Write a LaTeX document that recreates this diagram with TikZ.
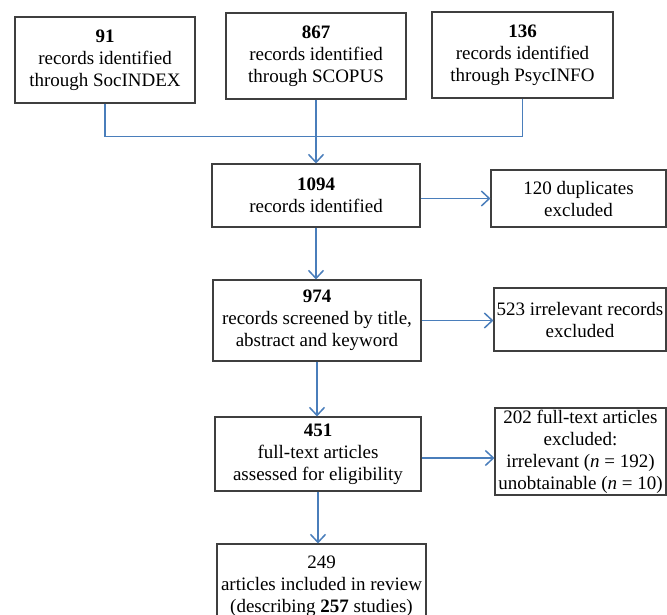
\documentclass[tikz,border=0pt]{standalone}
\usepackage{fontspec}
\setmainfont{Liberation Serif}
\usetikzlibrary{arrows.meta}
\definecolor{linkblue}{HTML}{4A7EBB}
\definecolor{bordgray}{HTML}{3F3F3F}
\begin{document}
\begin{tikzpicture}[x=1pt,y=-1pt,
  box/.style={draw=bordgray,line width=1.1pt,inner sep=0pt,align=center,font=\fontsize{19}{22}\selectfont},
  link/.style={draw=linkblue,line width=1.5pt},
  arr/.style={link,-{Straight Barb[length=8pt,width=15pt,line width=1.5pt]}}]
\useasboundingbox (0,0) rectangle (667,614);
\node[box,minimum width=180pt,minimum height=86pt] (A) at (105,60) {\textbf{91}\\records identified\\through SocINDEX};
\node[box,minimum width=180pt,minimum height=86pt] (B) at (316,56) {\textbf{867}\\records identified\\through SCOPUS};
\node[box,minimum width=181pt,minimum height=86pt] (C) at (522.5,55) {\textbf{136}\\records identified\\through PsycINFO};
\node[box,minimum width=208pt,minimum height=63pt] (D) at (316,195.5) {\textbf{1094}\\records identified};
\node[box,minimum width=175pt,minimum height=57pt] (E) at (578.5,198.5) {120 duplicates\\excluded};
\node[box,minimum width=208pt,minimum height=81pt] (F) at (317,320.5) {\textbf{974}\\records screened by title,\\abstract and keyword};
\node[box,minimum width=172pt,minimum height=63pt] (G) at (580,319.5) {523 irrelevant records\\excluded};
\node[box,minimum width=206pt,minimum height=74pt] (H) at (318,454) {\textbf{451}\\full-text articles\\assessed for eligibility};
\node[box,minimum width=171pt,minimum height=87pt] (I) at (580.5,451.5) {202 full-text articles\\excluded:\\irrelevant (\textit{n} = 192)\\unobtainable (\textit{n} = 10)};
\node[box,minimum width=209pt,minimum height=84pt] (J) at (321.5,586) {249\\articles included in review\\(describing \textbf{257} studies)};
\draw[link] (A.south) -- ++(0,33) -| (C.south);
\draw[arr] (B.south) -- (D.north);
\draw[arr] (D.south) -- (D.south |- F.north);
\draw[arr] (F.south) -- (F.south |- H.north);
\draw[arr] (H.south) -- (H.south |- J.north);
\draw[arr] (E.west -| D.east) -- (E.west);
\draw[arr] (F.east) -- (F.east -| G.west);
\draw[arr] ([yshift=-4pt]H.east) -- ([yshift=-4pt]H.east -| I.west);
\end{tikzpicture}
\end{document}
